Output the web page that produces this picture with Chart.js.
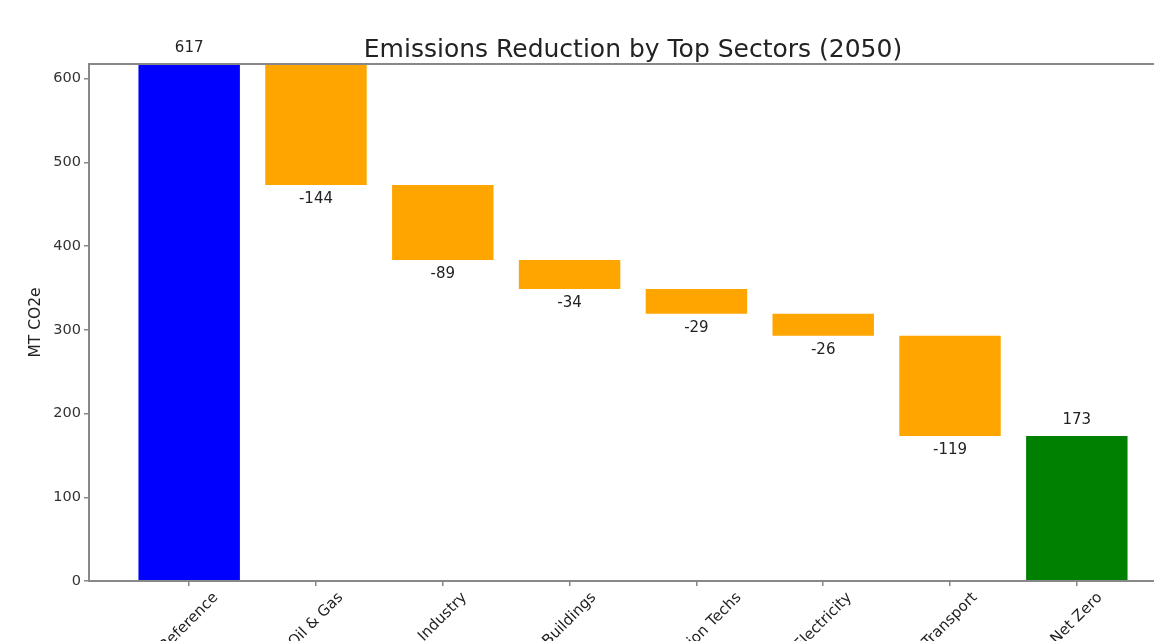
<!DOCTYPE html>
<html>
<head>
<meta charset="utf-8">
<script src="https://cdn.jsdelivr.net/npm/chart.js@4/dist/chart.umd.min.js"></script>
<style>
  html, body { margin: 0; padding: 0; background: #fff; overflow: hidden; }
  #wrap { width: 1200px; height: 641px; }
</style>
</head>
<body>
<div id="wrap"><canvas id="waterfall" width="1200" height="641"></canvas></div>
<script>
// ---- data ----
var sectors      = ["Reference", "Oil & Gas", "Industry", "Buildings", "Mitigation Techs", "Electricity", "Transport", "Net Zero"];
var referenceVal = 617.5;
var reductions   = [-144.6, -89.6, -34.4, -29.6, -26.5, -119.7];
var yTicks       = [0, 100, 200, 300, 400, 500, 600];
var chartTitle   = "Emissions Reduction by Top Sectors (2050)";
var yTitle       = "MT CO2e";

// build floating bars (waterfall)
var bars = [];
var labelsVal = [];
var colors = [];
bars.push({ x: 0, y: [0, referenceVal] });
labelsVal.push(referenceVal);
colors.push("#0000ff");
var running = referenceVal;
reductions.forEach(function (d, i) {
    var next = running + d;
    bars.push({ x: i + 1, y: [next, running] });
    labelsVal.push(d);
    colors.push("#ffa500");
    running = next;
});
bars.push({ x: sectors.length - 1, y: [0, running] });
labelsVal.push(running);
colors.push("#008000");

var FONT = "'DejaVu Sans', sans-serif";

// draws title, y title, frame, value labels and rotated x labels
var extras = {
    id: "extras",
    afterDatasetsDraw: function (chart) {
        var ctx = chart.ctx;
        var ca = chart.chartArea;
        var xs = chart.scales.x;
        var meta = chart.getDatasetMeta(0);

        // frame
        ctx.save();
        ctx.strokeStyle = "#888";
        ctx.lineWidth = 2;
        ctx.strokeRect(ca.left, ca.top, ca.right - ca.left, ca.bottom - ca.top);
        ctx.restore();

        // title
        ctx.save();
        ctx.fillStyle = "#222";
        ctx.font = "25px " + FONT;
        ctx.textAlign = "center";
        ctx.textBaseline = "middle";
        ctx.fillText(chartTitle, (ca.left + ca.right) / 2, 50);
        ctx.restore();

        // y title
        ctx.save();
        ctx.fillStyle = "#222";
        ctx.font = "15.5px " + FONT;
        ctx.translate(36, (ca.top + ca.bottom) / 2);
        ctx.rotate(-Math.PI / 2);
        ctx.textAlign = "center";
        ctx.textBaseline = "middle";
        ctx.fillText(yTitle, 0, 0);
        ctx.restore();

        // value labels
        ctx.save();
        ctx.fillStyle = "#222";
        ctx.font = "15px " + FONT;
        ctx.textAlign = "center";
        meta.data.forEach(function (el, i) {
            var v = labelsVal[i];
            var top = Math.min(el.y, el.base);
            var bottom = Math.max(el.y, el.base);
            if (v < 0) {
                ctx.textBaseline = "top";
                ctx.fillText(String(Math.trunc(v)), el.x, bottom + 7);
            } else {
                ctx.textBaseline = "bottom";
                ctx.fillText(String(Math.trunc(v)), el.x, top - 8);
            }
        });
        ctx.restore();

        // x labels, rotated 45 and centred on the tick
        ctx.save();
        ctx.fillStyle = "#222";
        ctx.font = "15px " + FONT;
        ctx.textAlign = "center";
        ctx.textBaseline = "middle";
        sectors.forEach(function (s, i) {
            var px = xs.getPixelForValue(i);
            var w = ctx.measureText(s).width;
            var side = (w + 15) * Math.SQRT1_2;
            ctx.save();
            ctx.translate(px, ca.bottom + 9 + side / 2);
            ctx.rotate(-Math.PI / 4);
            ctx.fillText(s, 0, 0);
            ctx.restore();
        });
        ctx.restore();
    }
};

new Chart(document.getElementById("waterfall"), {
    type: "bar",
    data: {
        datasets: [{
            data: bars,
            backgroundColor: colors,
            borderWidth: 0,
            barPercentage: 0.8,
            categoryPercentage: 1.0
        }]
    },
    options: {
        responsive: false,
        animation: false,
        layout: { padding: { top: 64, right: 23, left: 0, bottom: 0 } },
        plugins: {
            legend: { display: false },
            tooltip: { enabled: false }
        },
        scales: {
            x: {
                type: "linear",
                offset: false,
                min: -0.79,
                max: sectors.length - 1 + 0.79,
                afterBuildTicks: function (scale) {
                    scale.ticks = sectors.map(function (s, i) { return { value: i }; });
                },
                afterFit: function (scale) { scale.height = 60; },
                ticks: { display: false },
                grid: { display: true, offset: false, drawOnChartArea: false, drawTicks: true, tickLength: 5, color: "#888", lineWidth: 1.5 },
                border: { display: false }
            },
            y: {
                min: 0,
                max: referenceVal,
                afterBuildTicks: function (scale) {
                    scale.ticks = yTicks.map(function (v) { return { value: v }; });
                },
                afterFit: function (scale) { scale.width = 89; },
                ticks: {
                    padding: 3,
                    color: "#333",
                    font: { family: FONT, size: 14.5 }
                },
                grid: { display: true, drawOnChartArea: false, drawTicks: true, tickLength: 5, color: "#888", lineWidth: 1.5 },
                border: { display: false }
            }
        }
    },
    plugins: [extras]
});
</script>
</body>
</html>
